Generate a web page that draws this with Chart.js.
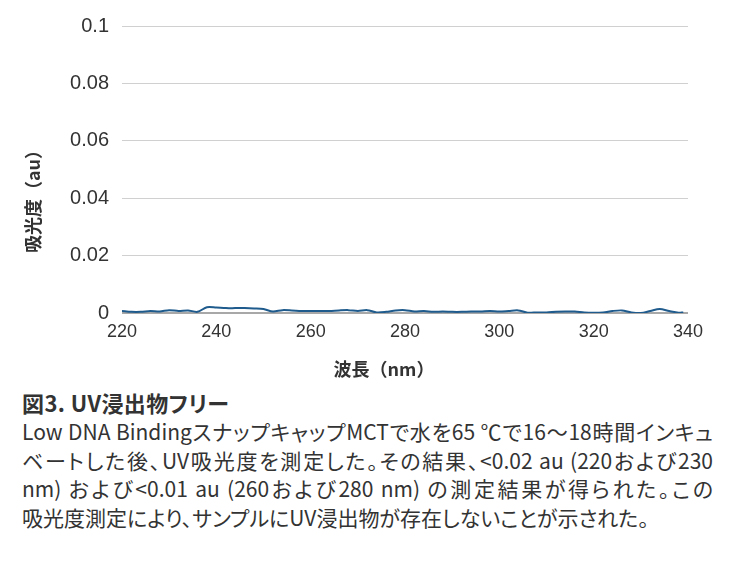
<!DOCTYPE html>
<html lang="ja">
<head>
<meta charset="utf-8">
<script src="https://cdn.jsdelivr.net/npm/chart.js@4/dist/chart.umd.min.js"></script>
<style>
  html, body { margin: 0; padding: 0; background: #fff; }
  body { width: 731px; height: 574px; overflow: hidden; font-family: "Noto Sans CJK JP", "Noto Sans", sans-serif; color: #333; }
  #wrap { position: relative; width: 731px; height: 385px; }
  .caption { margin: 0 0 0 22px; width: 691px; font-feature-settings: "palt"; }
  .caption h3 { margin: 2px 0 0 0; font-size: 22px; font-weight: bold; line-height: 30px; letter-spacing: 0.4px; color: #333; }
  .caption .ln { font-size: 21px; line-height: 28.5px; white-space: nowrap; text-align: justify; text-align-last: justify; }
  .caption .ln.last { text-align: left; text-align-last: left; }
</style>
</head>
<body>
<div id="wrap"><canvas id="uvChart"></canvas></div>
<div class="caption">
  <h3>図3. UV浸出物フリー</h3>
  <div class="ln">Low DNA BindingスナップキャップMCTで水を65 ℃で16～18時間インキュ</div>
  <div class="ln">ベートした後、UV吸光度を測定した。その結果、&lt;0.02 au (220および230</div>
  <div class="ln">nm) および&lt;0.01 au (260および280 nm) の測定結果が得られた。この</div>
  <div class="ln last">吸光度測定により、サンプルにUV浸出物が存在しないことが示された。</div>
</div>
<script>
// wavelength (nm) and absorbance (au)
const wavelengths = [220, 222, 224, 226, 228, 230, 232, 234, 236, 238,
  240, 242, 244, 246, 248, 250, 252, 254, 256, 258,
  260, 262, 264, 266, 268, 270, 272, 274, 276, 278,
  280, 282, 284, 286, 288, 290, 292, 294, 296, 298,
  300, 302, 304, 306, 308, 310, 312, 314, 316, 318,
  320, 322, 324, 326, 328, 330, 332, 334, 336, 338, 339];
const absorbance = [0.0007, 0.0004, 0.0004, 0.0007, 0.0005, 0.0010, 0.0007, 0.0009, 0.0004, 0.0020,
  0.0019, 0.0017, 0.0017, 0.0017, 0.0016, 0.0014, 0.0005, 0.0010, 0.0009, 0.0007,
  0.0007, 0.0007, 0.0007, 0.0009, 0.0010, 0.0007, 0.0010, 0.0002, 0.0004, 0.0009,
  0.0010, 0.0005, 0.0007, 0.0004, 0.0005, 0.0004, 0.0004, 0.0005, 0.0005, 0.0007,
  0.0005, 0.0007, 0.0009, 0.0001, 0.0002, 0.0002, 0.0004, 0.0005, 0.0005, 0.0002,
  0.0001, 0.0002, 0.0007, 0.0009, 0.0002, 0.0000, 0.0007, 0.0014, 0.0007, 0.0001, 0.0002];
const xTicks = [220, 240, 260, 280, 300, 320, 340];
const yTicks = [0, 0.02, 0.04, 0.06, 0.08, 0.1];
const xTitle = '波長（nm）';
const yTitle = '吸光度（au）';

const points = wavelengths.map((w, i) => ({ x: w, y: absorbance[i] }));

// axis titles drawn by hand so they sit where the original has them
const axisTitles = {
  id: 'axisTitles',
  afterDraw(chart) {
    const ctx = chart.ctx;
    ctx.save();
    ctx.fillStyle = '#333';
    ctx.font = "bold 18px 'Noto Sans CJK JP', sans-serif";
    ctx.textAlign = 'center';
    ctx.textBaseline = 'middle';
    ctx.fillText(xTitle, 384, 369);
    ctx.translate(33, 197);
    ctx.rotate(-Math.PI / 2);
    ctx.fillText(yTitle, 0, 0);
    ctx.restore();
  }
};

const uvChart = new Chart(document.getElementById('uvChart'), {
  type: 'line',
  data: {
    datasets: [{
      data: points,
      borderColor: '#1f5b8c',
      borderWidth: 2,
      pointRadius: 0,
      tension: 0.3,
      fill: false
    }]
  },
  options: {
    responsive: true,
    maintainAspectRatio: false,
    animation: false,
    layout: { padding: { top: 26, right: 43, left: 0, bottom: 0 } },
    plugins: {
      legend: { display: false },
      tooltip: { enabled: false }
    },
    scales: {
      x: {
        type: 'linear',
        min: 220,
        max: 340,
        afterBuildTicks: (scale) => { scale.ticks = xTicks.map(v => ({ value: v })); },
        afterFit: (scale) => { scale.height = 72; },
        grid: { display: false, drawTicks: false },
        border: { display: false },
        ticks: {
          color: '#333',
          padding: 8,
          maxRotation: 0,
          font: { family: "'Liberation Sans', Arial, sans-serif", size: 18 }
        }
      },
      y: {
        min: 0,
        max: 0.1,
        afterBuildTicks: (scale) => { scale.ticks = yTicks.map(v => ({ value: v })); },
        afterFit: (scale) => { scale.width = 122; },
        grid: {
          drawTicks: false,
          color: (c) => (c.tick && c.tick.value === 0 ? '#a8a8a8' : '#d0d0d0'),
          lineWidth: (c) => (c.tick && c.tick.value === 0 ? 2 : 1)
        },
        border: { display: false },
        ticks: {
          color: '#333',
          padding: 13,
          font: { family: "'Liberation Sans', Arial, sans-serif", size: 20 },
          callback: (v) => String(Math.round(v * 100) / 100)
        }
      }
    }
  },
  plugins: [axisTitles]
});
</script>
</body>
</html>
